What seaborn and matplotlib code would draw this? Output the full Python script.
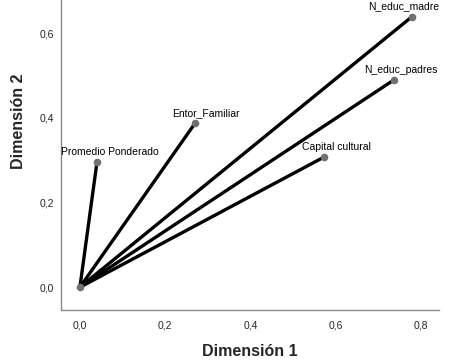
import matplotlib
matplotlib.use("Agg")
import matplotlib.pyplot as plt
import seaborn as sns
import pandas as pd
from matplotlib.ticker import FuncFormatter

variables = ["N_educ_madre", "N_educ_padres", "Entor_Familiar", "Promedio Ponderado", "Capital cultural"]
dim1 = [0.778, 0.736, 0.270, 0.040, 0.572]
dim2 = [0.638, 0.489, 0.387, 0.295, 0.307]
x_ticks = [0.0, 0.2, 0.4, 0.6, 0.8]
y_ticks = [0.0, 0.2, 0.4, 0.6]

sns.set_style("white")
plt.rcParams["font.family"] = ["Liberation Sans", "DejaVu Sans"]

rows = []
for v, a, b in zip(variables, dim1, dim2):
    rows.append({"var": v, "x": 0.0, "y": 0.0})
    rows.append({"var": v, "x": a, "y": b})
seg = pd.DataFrame(rows)
pts = pd.DataFrame({"var": variables, "x": dim1, "y": dim2})

fig = plt.figure(figsize=(4.76, 3.64), dpi=100)
ax = fig.add_axes([0.128, 0.148, 0.794, 0.852])

sns.lineplot(data=seg, x="x", y="y", units="var", estimator=None, sort=False,
             color="black", linewidth=2.4, ax=ax, zorder=2)
sns.scatterplot(data=pts, x="x", y="y", color="#707070", s=30, edgecolor="#707070",
                linewidth=0, ax=ax, zorder=3)
sns.scatterplot(x=[0.0], y=[0.0], color="#707070", s=30, linewidth=0, ax=ax, zorder=3)

offsets = {
    "N_educ_madre": (-6, 4),
    "N_educ_padres": (5, 4),
    "Entor_Familiar": (8, 4),
    "Promedio Ponderado": (9, 4),
    "Capital cultural": (9, 4),
}
for v, a, b in zip(variables, dim1, dim2):
    dx, dy = offsets[v]
    ax.annotate(v, (a, b), xytext=(dx, dy), textcoords="offset points",
                ha="center", va="bottom", fontsize=7.5, color="black")

ax.set_xlim(-0.0445, 0.842)
ax.set_ylim(-0.054, 0.678)
ax.set_xticks(x_ticks)
ax.set_yticks(y_ticks)
fmt = FuncFormatter(lambda v, p: f"{v:.1f}".replace(".", ","))
ax.xaxis.set_major_formatter(fmt)
ax.yaxis.set_major_formatter(fmt)
ax.tick_params(axis="both", length=0, labelsize=7.5)
ax.tick_params(axis="y", pad=5)
ax.tick_params(axis="x", pad=7.5)

for s in ["top", "right"]:
    ax.spines[s].set_visible(False)
for s in ["left", "bottom"]:
    ax.spines[s].set_color("#8a8a8a")
    ax.spines[s].set_linewidth(1.0)

ax.set_xlabel("Dimensión 1", fontsize=11.5, fontweight="bold", va="center")
ax.set_ylabel("Dimensión 2", fontsize=11.5, fontweight="bold", va="center")
ax.xaxis.set_label_coords(0.5, -0.135)
ax.yaxis.set_label_coords(-0.112, 0.61)
ax.grid(False)

fig.savefig("out.png", dpi=100)
